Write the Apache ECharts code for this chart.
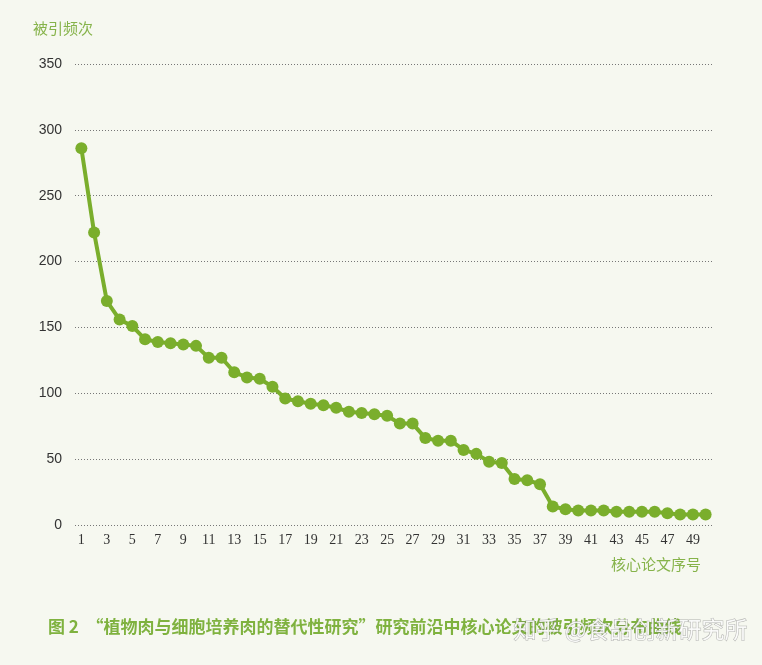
<!DOCTYPE html>
<html>
<head>
<meta charset="utf-8">
<script src="https://cdn.jsdelivr.net/npm/echarts@6/dist/echarts.min.js"></script>
<style>
html,body{margin:0;padding:0;background:#f6f8f0;}
#c{width:762px;height:665px;}
</style>
</head>
<body>
<div id="c"></div>
<script>
const categories = Array.from({length: 50}, (_, i) => String(i + 1));
const citations = [286, 222, 170, 156, 151, 141, 139, 138, 137, 136,
                   127, 127, 116, 112, 111, 105, 96, 94, 92, 91,
                   89, 86, 85, 84, 83, 77, 77, 66, 64, 64,
                   57, 54, 48, 47, 35, 34, 31, 14, 12, 11,
                   11, 11, 10, 10, 10, 10, 9, 8, 8, 8];
const yTicks = [0, 50, 100, 150, 200, 250, 300, 350];
const yName = '被引频次';
const xName = '核心论文序号';
const caption = '图 2  “植物肉与细胞培养肉的替代性研究”研究前沿中核心论文的被引频次分布曲线';
const watermark = '知乎 @食品创新研究所';

const green = '#7aae2c';
const chart = echarts.init(document.getElementById('c'));
chart.setOption({
  backgroundColor: '#f6f8f0',
  animation: false,
  grid: {left: 75, right: 50, top: 64, bottom: 140},
  xAxis: {
    type: 'category',
    data: categories,
    boundaryGap: true,
    axisLine: {show: false},
    axisTick: {show: false},
    axisLabel: {interval: 1, color: '#333', fontSize: 14, fontFamily: 'Liberation Serif', margin: 8}
  },
  yAxis: {
    type: 'value',
    min: yTicks[0],
    max: yTicks[yTicks.length - 1],
    interval: 50,
    axisLine: {show: false},
    axisTick: {show: false},
    axisLabel: {color: '#333', fontSize: 14, fontFamily: 'Liberation Sans', margin: 13},
    splitLine: {lineStyle: {type: [1, 2], color: '#777', width: 1}}
  },
  graphic: [
    {type: 'text', left: 33, top: 21, style: {text: yName, fill: '#86b34a', fontSize: 15, fontFamily: 'Noto Sans CJK SC'}},
    {type: 'text', left: 611, top: 557, style: {text: xName, fill: '#86b34a', fontSize: 15, fontFamily: 'Noto Sans CJK SC'}},
    {type: 'text', left: 48, top: 618, style: {text: caption, fill: '#7fb23f', fontSize: 17, fontWeight: 'bold', fontFamily: 'Noto Sans CJK SC'}},
    {type: 'text', left: 513, top: 617, style: {text: watermark, fill: 'rgba(255,255,255,0.85)', stroke: 'rgba(120,120,120,0.55)', lineWidth: 1, fontSize: 23, fontFamily: 'Noto Sans CJK SC'}}
  ],
  series: [{
    type: 'line',
    data: citations,
    symbol: 'circle',
    symbolSize: 12,
    showAllSymbol: true,
    lineStyle: {color: green, width: 4},
    itemStyle: {color: green}
  }]
});
</script>
</body>
</html>
